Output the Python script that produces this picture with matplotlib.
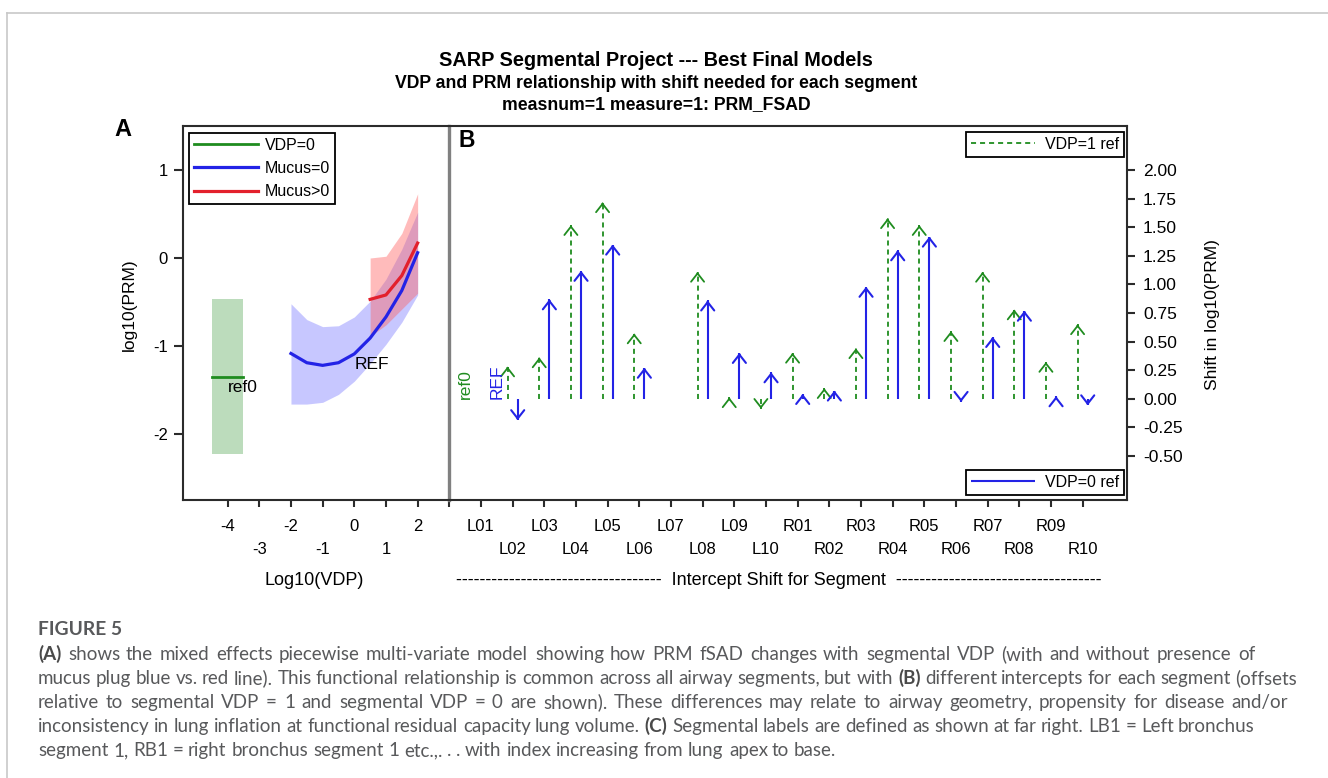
import numpy as np
import matplotlib
matplotlib.use('Agg')
import matplotlib.pyplot as plt

plt.rcParams['font.family'] = ['Liberation Sans', 'DejaVu Sans']
plt.rcParams['axes.unicode_minus'] = False

# ---------------- data ----------------
# Panel A : log10(PRM) vs log10(VDP)
ref0_x = [-4.5, -3.5]            # VDP=0 shown at log10(VDP) = -4
ref0_est = -1.35
ref0_lo = -2.23
ref0_hi = -0.47

vdp_blue = [-2.0, -1.5, -1.0, -0.5, 0.0, 0.5, 1.0, 1.5, 2.0]
prm_blue = [-1.085, -1.19, -1.22, -1.19, -1.09, -0.91, -0.67, -0.37, 0.06]
prm_blue_hi = [-0.52, -0.70, -0.78, -0.77, -0.67, -0.49, -0.24, 0.10, 0.52]
prm_blue_lo = [-1.66, -1.66, -1.64, -1.55, -1.40, -1.20, -0.98, -0.73, -0.42]

vdp_red = [0.5, 1.0, 1.5, 2.0]
prm_red = [-0.47, -0.42, -0.20, 0.17]
prm_red_hi = [0.00, 0.02, 0.28, 0.73]
prm_red_lo = [-0.89, -0.76, -0.58, -0.40]

a_xticks_top = [-4, -2, 0, 2]
a_xticks_bot = [-3, -1, 1]
a_yticks = [-2, -1, 0, 1]

# Panel B : intercept shift per segment (L01 is the reference)
segments = ['L01', 'L02', 'L03', 'L04', 'L05', 'L06', 'L07', 'L08', 'L09', 'L10',
            'R01', 'R02', 'R03', 'R04', 'R05', 'R06', 'R07', 'R08', 'R09', 'R10']
shift_vdp1 = [0.0, 0.28, 0.36, 1.52, 1.72, 0.57, np.nan, 1.11, 0.01, -0.09,
              0.40, 0.09, 0.44, 1.58, 1.52, 0.59, 1.11, 0.78, 0.32, 0.65]
shift_vdp0 = [0.0, -0.19, 0.87, 1.12, 1.35, 0.27, np.nan, 0.86, 0.40, 0.23,
              0.04, 0.07, 0.98, 1.30, 1.42, -0.03, 0.54, 0.77, 0.02, -0.06]
b_yticks = [-0.50, -0.25, 0.00, 0.25, 0.50, 0.75, 1.00, 1.25, 1.50, 1.75, 2.00]

title_lines = ['SARP Segmental Project --- Best Final Models',
               'VDP and PRM relationship with shift needed for each segment',
               'measnum=1 measure=1: PRM_FSAD']

caption_head = 'FIGURE 5'
caption_lines = [
    [('(A)', True), (' shows the mixed effects piecewise multi-variate model showing how PRM fSAD changes with segmental VDP (with and without presence of', False)],
    [('mucus plug blue vs. red line). This functional relationship is common across all airway segments, but with ', False), ('(B)', True), (' different intercepts for each segment (offsets', False)],
    [('relative to segmental VDP = 1 and segmental VDP = 0 are shown). These differences may relate to airway geometry, propensity for disease and/or', False)],
    [('inconsistency in lung inflation at functional residual capacity lung volume. ', False), ('(C)', True), (' Segmental labels are defined as shown at far right. LB1 = Left bronchus', False)],
    [('segment 1, RB1 = right bronchus segment 1 etc.,. . . with index increasing from lung apex to base.', False)],
]
caption_right = [1255, 1297, 1288, 1255, None]   # right edge of each caption line (None = ragged)

# ---------------- style ----------------
GREEN = '#1f8c1f'
BLUE = '#2323e6'
RED = '#e3202c'
FRAME = '#2b2b2b'
W, H = 1328, 778

fig = plt.figure(figsize=(W / 100, H / 100), dpi=100)


def rect(l, t, r, b):
    return [l / W, 1 - b / H, (r - l) / W, (b - t) / H]


# overlay in pixel coordinates for page furniture
ov = fig.add_axes([0, 0, 1, 1], zorder=-5)
ov.set_xlim(0, W)
ov.set_ylim(H, 0)
ov.axis('off')
ov.plot([6.7, W], [12.7, 12.7], color='#c8c8c8', lw=1.2)
ov.plot([6.7, 6.7], [12.7, H], color='#c8c8c8', lw=1.2)

ov.text(656, 60, title_lines[0], ha='center', va='center', fontsize=14.3, fontweight='bold')
ov.text(656, 83, title_lines[1], ha='center', va='center', fontsize=12.7, fontweight='bold')
ov.text(656, 105, title_lines[2], ha='center', va='center', fontsize=12.7, fontweight='bold')
ov.text(122.5, 129, 'A', ha='center', va='center', fontsize=17, fontweight='bold')

# ---------------- panel A ----------------
axA = fig.add_axes(rect(183.3, 126, 449.3, 500))
axA.set_xlim(-5.40, 3.0)
axA.set_ylim(-2.75, 1.50)

axA.fill_between(ref0_x, ref0_lo, ref0_hi, color='#bcdcbc', lw=0)
lg, = axA.plot(ref0_x, [ref0_est, ref0_est], color=GREEN, lw=2, label='VDP=0')
axA.fill_between(vdp_blue, prm_blue_lo, prm_blue_hi, color='#7b7bff', alpha=0.42, lw=0)
axA.fill_between(vdp_red, prm_red_lo, prm_red_hi, color='#ff5f5f', alpha=0.42, lw=0)
lb, = axA.plot(vdp_blue, prm_blue, color=BLUE, lw=2.3, label='Mucus=0')
lr, = axA.plot(vdp_red, prm_red, color=RED, lw=2.3, label='Mucus>0')
axA.text(-3.98, -1.476, 'ref0', ha='left', va='center', fontsize=12.5)
axA.text(0.02, -1.21, 'REF', ha='left', va='center', fontsize=12.5)

legA = axA.legend(handles=[lg, lb, lr], loc='upper left', bbox_to_anchor=(0.0226, 0.982),
                  borderaxespad=0, fancybox=False, edgecolor='black', framealpha=1,
                  fontsize=11.5, handlelength=4.0, handletextpad=0.45, borderpad=0.3,
                  labelspacing=0.52)
legA.get_frame().set_linewidth(1.3)

axA.set_xticks(a_xticks_top)
axA.set_xticklabels([str(v) for v in a_xticks_top])
axA.set_xticks(a_xticks_bot + [3], minor=True)
axA.set_xticklabels([str(v) for v in a_xticks_bot] + [''], minor=True)
axA.set_yticks(a_yticks)
axA.set_yticklabels([str(v) for v in a_yticks])
axA.tick_params(axis='x', which='both', direction='out', length=5, width=1.5, labelsize=12, color=FRAME)
axA.tick_params(axis='x', which='major', pad=9)
axA.tick_params(axis='x', which='minor', pad=25)
axA.tick_params(axis='y', direction='out', length=6.5, width=1.5, pad=4.5, labelsize=12, color=FRAME)
axA.set_ylabel('log10(PRM)', fontsize=12.5)
axA.yaxis.set_label_coords(-0.175, 0.521)
axA.set_xlabel('Log10(VDP)', fontsize=13)
axA.xaxis.set_label_coords(0.491, -0.1925)
for s in ['left', 'top', 'bottom']:
    axA.spines[s].set_color(FRAME)
    axA.spines[s].set_linewidth(1.5)
axA.spines['right'].set_color('#808080')
axA.spines['right'].set_linewidth(2.4)

# ---------------- panel B ----------------
axB = fig.add_axes(rect(449.3, 126, 1127, 500))
axB.set_xlim(-1.0, 20.4)
axB.set_ylim(-0.89, 2.39)
axB.patch.set_alpha(0)

pos = np.arange(len(segments))
off = 0.16
head = '->,head_length=0.6,head_width=0.47'
h1 = h0 = None
for i in pos[1:]:
    v1, v0 = shift_vdp1[i], shift_vdp0[i]
    if not np.isnan(v1):
        x = pos[i] - off
        c = axB.vlines(x, 0, v1, colors=GREEN, linestyles=(0, (2.8, 2.2)), lw=1.3)
        if h1 is None:
            h1 = c
        sgn = 1 if v1 >= 0 else -1
        axB.annotate('', xy=(x, v1), xytext=(x, v1 - sgn * 0.02),
                     arrowprops=dict(arrowstyle=head, color=GREEN, lw=1.3,
                                     shrinkA=0, shrinkB=0, mutation_scale=10))
    if not np.isnan(v0):
        x = pos[i] + off
        c = axB.vlines(x, 0, v0, colors=BLUE, linestyles='solid', lw=1.5)
        if h0 is None:
            h0 = c
        sgn = 1 if v0 >= 0 else -1
        axB.annotate('', xy=(x, v0), xytext=(x, v0 - sgn * 0.02),
                     arrowprops=dict(arrowstyle=head, color=BLUE, lw=1.5,
                                     shrinkA=0, shrinkB=0, mutation_scale=10))

axB.text(pos[0] - 0.5, shift_vdp1[0], 'ref0', color=GREEN, rotation=90,
         ha='center', va='bottom', fontsize=12.5)
axB.text(pos[0] + 0.5, shift_vdp0[0], 'REF', color=BLUE, rotation=90,
         ha='center', va='bottom', fontsize=12.5)

h1.set_label('VDP=1 ref')
h0.set_label('VDP=0 ref')
leg1 = axB.legend(handles=[h1], loc='upper right', bbox_to_anchor=(0.996, 0.985),
                  borderaxespad=0, fancybox=False, edgecolor='black', framealpha=1,
                  fontsize=11.5, handlelength=4.0, handletextpad=0.6, borderpad=0.33)
leg1.get_frame().set_linewidth(1.3)
axB.add_artist(leg1)
leg0 = axB.legend(handles=[h0], loc='lower right', bbox_to_anchor=(0.996, 0.013),
                  borderaxespad=0, fancybox=False, edgecolor='black', framealpha=1,
                  fontsize=11.5, handlelength=4.0, handletextpad=0.6, borderpad=0.33)
leg0.get_frame().set_linewidth(1.3)

axB.set_xticks(pos[::2])
axB.set_xticklabels(segments[::2])
axB.set_xticks(pos[1::2], minor=True)
axB.set_xticklabels(segments[1::2], minor=True)
axB.tick_params(axis='x', which='both', direction='out', length=5, width=1.5, labelsize=12, color=FRAME)
axB.tick_params(axis='x', which='major', pad=9)
axB.tick_params(axis='x', which='minor', pad=25)
axB.yaxis.tick_right()
axB.yaxis.set_label_position('right')
axB.set_yticks(b_yticks)
axB.set_yticklabels(['%.2f' % v for v in b_yticks])
axB.tick_params(axis='y', direction='out', length=6, width=1.5, pad=5.5, labelsize=12.5, color=FRAME)
axB.set_ylabel('Shift in log10(PRM)', fontsize=12.5)
axB.yaxis.set_label_coords(1.115, 0.497)
dash = '-' * 35
axB.set_xlabel(dash + '  Intercept Shift for Segment  ' + dash, fontsize=13)
axB.xaxis.set_label_coords(0.4865, -0.1925)
axB.spines['left'].set_visible(False)
for s in ['right', 'top', 'bottom']:
    axB.spines[s].set_color(FRAME)
    axB.spines[s].set_linewidth(1.5)
axB.text(466.5, 140, 'B', transform=ov.transData, ha='center', va='center',
         fontsize=16.5, fontweight='bold')

# ---------------- caption (justified, word by word) ----------------
CAP = '#58595b'
cap_font = ['Lato', 'Open Sans', 'DejaVu Sans']
renderer = fig.canvas.get_renderer()


def words_of(parts):
    out = []
    for s, b in parts:
        for w in s.split(' '):
            if w:
                out.append((w, b))
    return out


def measure(s, size, bold):
    t = ov.text(0, 0, s, fontsize=size, family=cap_font,
                fontweight='bold' if bold else 'normal')
    w = t.get_window_extent(renderer).width
    t.remove()
    return w


# size chosen so the tightest line (line 2) fits its width with normal spacing
probe = 12.0
nat = sum(measure(s, probe, b) for s, b in caption_lines[1])
cap_size = probe * (caption_right[1] - 38) / nat
space_w = measure('a a', cap_size, False) - 2 * measure('a', cap_size, False)

ov.text(38, 635, caption_head, ha='left', va='baseline', fontsize=cap_size * 1.03,
        fontweight='bold', color=CAP, family=cap_font)
base = 660
for k, parts in enumerate(caption_lines):
    wl = words_of(parts)
    widths = [measure(w, cap_size, b) for w, b in wl]
    if caption_right[k] is not None:
        gap = (caption_right[k] - 38 - sum(widths)) / (len(wl) - 1)
    else:
        gap = space_w
    x = 38.0
    y = base + 24 * k
    for (w, b), ww in zip(wl, widths):
        ov.text(round(x), y, w, ha='left', va='baseline', fontsize=cap_size,
                fontweight='bold' if b else 'normal',
                color='#4a4a4a' if b else CAP, family=cap_font)
        x += ww + gap

fig.savefig('out.png', dpi=100)
